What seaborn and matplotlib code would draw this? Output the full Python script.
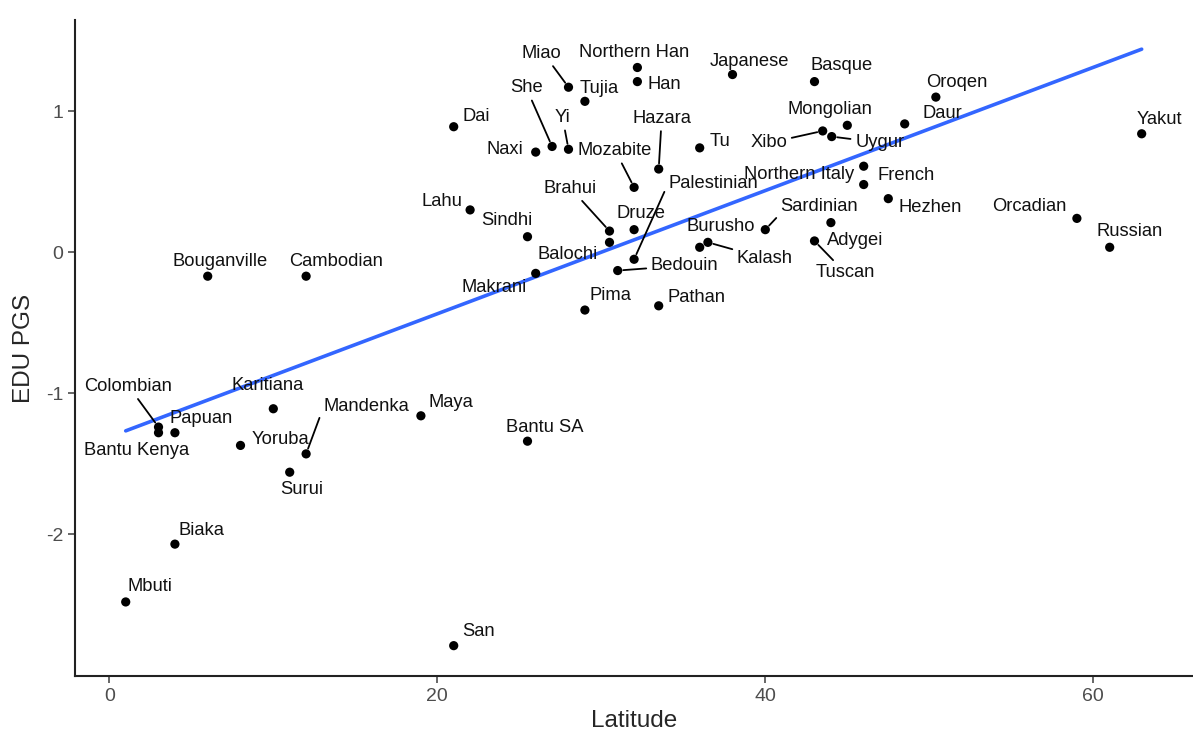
import matplotlib
matplotlib.use("Agg")
import matplotlib.pyplot as plt
import numpy as np
import pandas as pd
import seaborn as sns

# populations, latitude and EDU polygenic score
populations = [
    "Miao", "Northern Han", "Japanese", "Basque", "Oroqen", "She", "Tujia", "Han",
    "Dai", "Yi", "Hazara", "Mongolian", "Daur", "Yakut", "Naxi", "Mozabite", "Tu",
    "Xibo", "Uygur", "Palestinian", "Northern Italy", "French", "Brahui", "Druze",
    "Lahu", "Sindhi", "Sardinian", "Hezhen", "Orcadian", "Burusho", "Adygei",
    "Russian", "Balochi", "Kalash", "Bedouin", "Tuscan", "Bouganville", "Cambodian",
    "Makrani", "Pima", "Pathan", "Colombian", "Karitiana", "Mandenka", "Maya",
    "Papuan", "Bantu SA", "Bantu Kenya", "Yoruba", "Surui", "Biaka", "Mbuti", "San",
]
latitude = [
    28.0, 32.2, 38.0, 43.0, 50.4, 27.0, 29.0, 32.2,
    21.0, 28.0, 33.5, 45.0, 48.5, 62.95, 26.0, 32.0, 36.0,
    43.5, 44.05, 32.0, 46.0, 46.0, 30.5, 32.0,
    22.0, 25.5, 40.0, 47.5, 59.0, 36.0, 44.0,
    61.0, 30.5, 36.5, 31.0, 43.0, 6.0, 12.0,
    26.0, 29.0, 33.5, 3.0, 10.0, 12.0, 19.0,
    4.0, 25.5, 3.0, 8.0, 11.0, 4.0, 1.0, 21.0,
]
edu_pgs = [
    1.17, 1.31, 1.26, 1.21, 1.10, 0.75, 1.07, 1.21,
    0.89, 0.73, 0.59, 0.90, 0.91, 0.84, 0.71, 0.46, 0.74,
    0.86, 0.82, -0.05, 0.61, 0.48, 0.15, 0.16,
    0.30, 0.11, 0.16, 0.38, 0.24, 0.035, 0.21,
    0.035, 0.07, 0.07, -0.13, 0.08, -0.17, -0.17,
    -0.15, -0.41, -0.38, -1.24, -1.11, -1.43, -1.16,
    -1.28, -1.34, -1.28, -1.37, -1.56, -2.07, -2.48, -2.79,
]

df = pd.DataFrame({"pop": populations, "Latitude": latitude, "EDU PGS": edu_pgs})

# label placement (pixel offsets from the point), repel-style
label_offsets = {
    "Miao": (-27, 34), "Northern Han": (-3, 15), "Japanese": (17, 13), "Basque": (27, 16),
    "Oroqen": (21, 15), "She": (-26, 59), "Tujia": (14, 13), "Han": (27, -3),
    "Dai": (23, 10), "Yi": (-6, 32), "Hazara": (3, 51), "Mongolian": (-17, 16),
    "Daur": (38, 10), "Yakut": (18, 14), "Naxi": (-31, 3), "Mozabite": (-19, 37),
    "Tu": (20, 6), "Xibo": (-54, -12), "Uygur": (48, -6), "Palestinian": (79, 76),
    "Northern Italy": (-65, -8), "French": (42, 9), "Brahui": (-39, 43), "Druze": (7, 16),
    "Lahu": (-28, 8), "Sindhi": (-21, 16), "Sardinian": (54, 23), "Hezhen": (42, -9),
    "Orcadian": (-48, 12), "Burusho": (21, 21), "Adygei": (24, -18), "Russian": (20, 16),
    "Balochi": (-42, -12), "Kalash": (57, -16), "Bedouin": (67, 5), "Tuscan": (31, -32),
    "Bouganville": (12, 15), "Cambodian": (30, 15), "Makrani": (-42, -14), "Pima": (26, 15),
    "Pathan": (38, 8), "Colombian": (-30, 41), "Karitiana": (-6, 23), "Mandenka": (60, 47),
    "Maya": (30, 13), "Papuan": (26, 14), "Bantu SA": (17, 14), "Bantu Kenya": (-22, -18),
    "Yoruba": (40, 6), "Surui": (12, -17), "Biaka": (27, 14), "Mbuti": (24, 15), "San": (25, 14),
}
# labels joined to their point by a segment, with where the segment leaves the label box
segment_start = {
    "Miao": (0.55, 0.5), "She": (0.5, 0.5), "Yi": (0.5, 0.5), "Hazara": (0.5, 0.5),
    "Mozabite": (0.5, 0.5), "Xibo": (0.5, 0.5), "Uygur": (0.5, 0.5),
    "Palestinian": (0.0, 0.5), "Brahui": (0.5, 0.5), "Sardinian": (0.0, 0.1),
    "Kalash": (0.5, 0.5), "Bedouin": (0.5, 0.5), "Tuscan": (0.5, 0.5),
    "Colombian": (0.5, 0.5), "Mandenka": (0.0, 0.45),
}

sns.set_style("ticks")
plt.rcParams["font.family"] = ["Liberation Sans", "DejaVu Sans"]
plt.rcParams["axes.unicode_minus"] = False

fig = plt.figure(figsize=(11.93, 7.37), dpi=100)
ax = fig.add_axes([0.0629, 0.0828, 0.9371, 0.8901])

sns.regplot(data=df, x="Latitude", y="EDU PGS", scatter=False, ci=None, ax=ax,
            color="#3366FF", line_kws={"lw": 2.6})
sns.scatterplot(data=df, x="Latitude", y="EDU PGS", ax=ax, color="black",
                s=44, edgecolor="none", zorder=3)

for name, xv, yv in zip(populations, latitude, edu_pgs):
    dx, dy = label_offsets[name]
    arrow = None
    if name in segment_start:
        arrow = dict(arrowstyle="-", color="black", lw=1.3, shrinkA=1, shrinkB=4,
                     relpos=segment_start[name])
    ax.annotate(name, (xv, yv), xytext=(dx, dy), textcoords="offset pixels",
                ha="center", va="center", fontsize=13.2, color="#111111",
                arrowprops=arrow, zorder=4)

ax.set_xlim(-2.09, 66.08)
ax.set_ylim(-3.005, 1.647)
ax.set_xticks([0, 20, 40, 60])
ax.set_yticks([-2, -1, 0, 1])
ax.set_xlabel("Latitude", fontsize=17.5, labelpad=4)
ax.set_ylabel("EDU PGS", fontsize=17.5, labelpad=8)
ax.tick_params(labelsize=14, colors="#4D4D4D", length=5, width=1.2)
for s in ["left", "bottom"]:
    ax.spines[s].set_linewidth(1.5)
    ax.spines[s].set_color("#222222")
sns.despine(ax=ax)

fig.savefig("out.png", dpi=100)
